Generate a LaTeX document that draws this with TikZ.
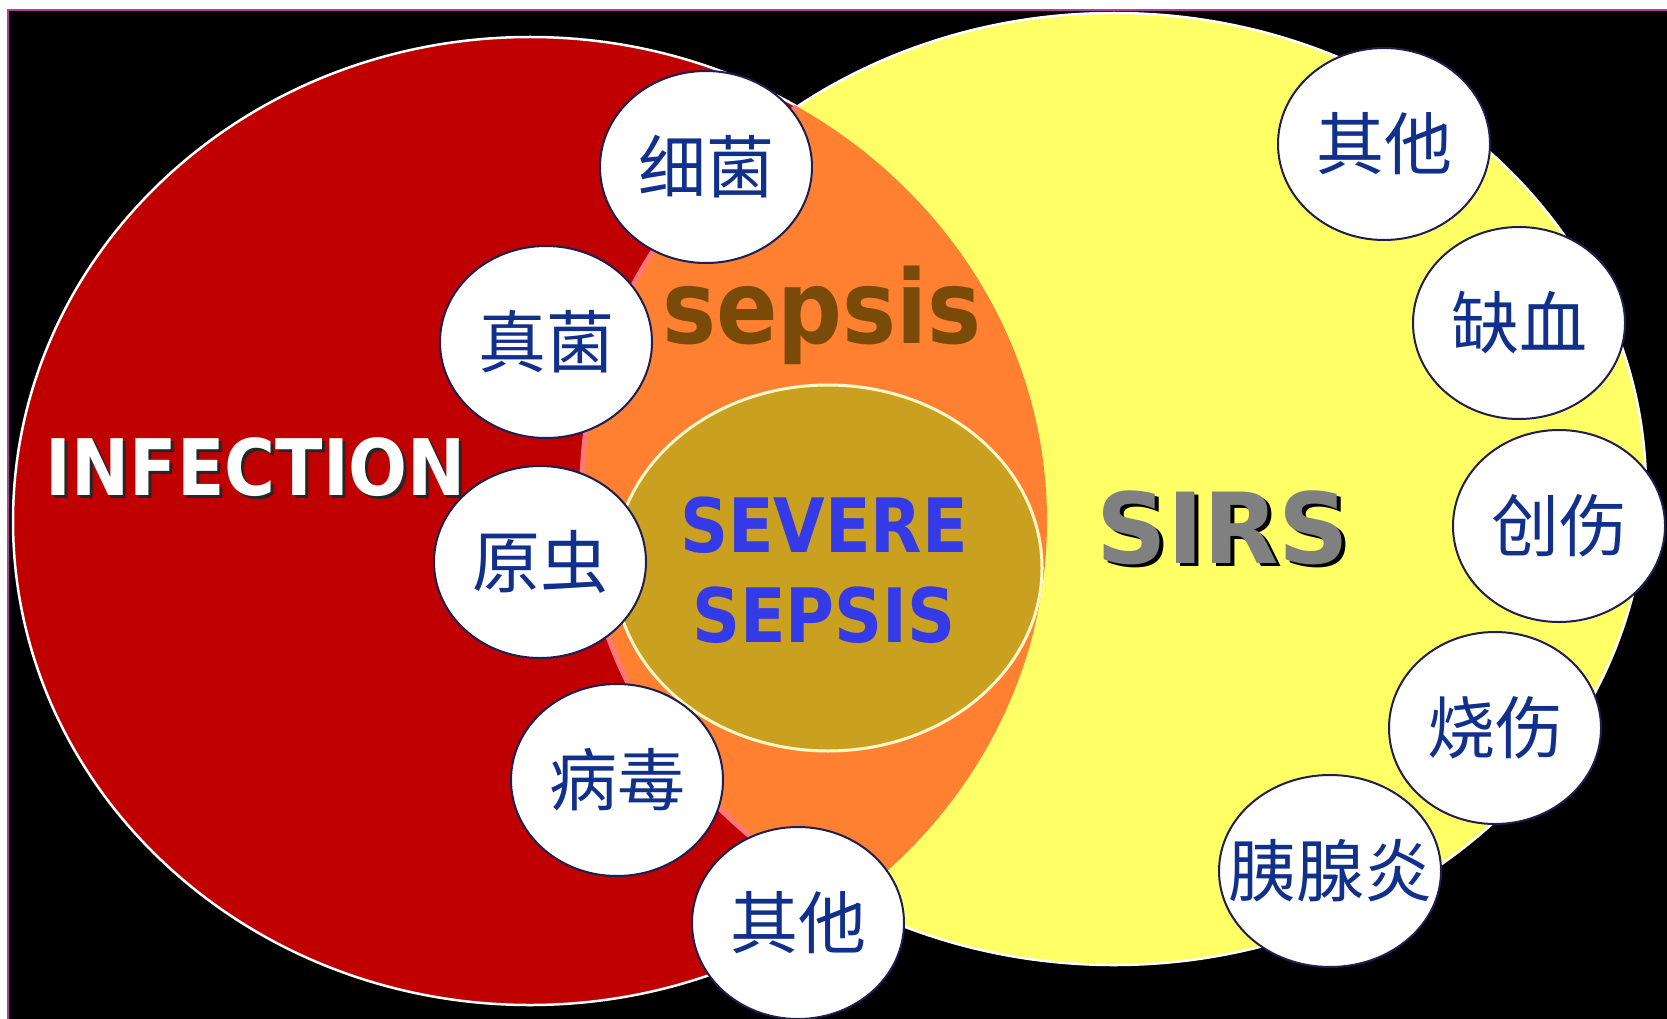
\documentclass[tikz,border=0pt]{standalone}
\usepackage{fontspec}
\usetikzlibrary{shapes.geometric}
\newfontfamily\cjk{Noto Sans CJK SC}
\newfontfamily\tahoma[FakeStretch=0.89]{DejaVu Sans Bold}
\newfontfamily\sirsfont{DejaVu Sans Bold}
\definecolor{infred}{RGB}{192,0,0}
\definecolor{sirsyellow}{RGB}{255,255,102}
\definecolor{sepsisorange}{RGB}{255,128,48}
\definecolor{rimpink}{RGB}{255,120,120}
\definecolor{severegold}{RGB}{202,160,32}
\definecolor{rimcream}{RGB}{255,248,200}
\definecolor{sepsisbrown}{RGB}{122,74,8}
\definecolor{severeblue}{RGB}{52,58,230}
\definecolor{sirsgray}{RGB}{128,128,128}
\definecolor{cjkblue}{RGB}{16,48,140}
\definecolor{circline}{RGB}{30,30,80}
\definecolor{framepink}{RGB}{176,64,160}

\begin{document}
\begin{tikzpicture}[x=1pt, y=-1pt,
  cause/.style={ellipse, draw=circline, line width=2pt, fill=white,
                minimum width=212pt, minimum height=192pt, inner sep=0pt,
                font=\cjk\fontsize{68}{68}\selectfont, text=cjkblue},
  bigword/.style={inner sep=0pt, anchor=base, font=\tahoma\fontsize{#1}{#1}\selectfont}
]
  \useasboundingbox (0,0) rectangle (1667,1019);
  \fill[white] (0,0) rectangle (1667,1019);
  \fill[black] (8,10) rectangle (1667,1019);
  \draw[framepink, line width=2.5pt] (8,1019) -- (8,10) -- (1667,10);

  % the two sets and their overlap
  \filldraw[fill=infred, draw=white, line width=2.5pt] (530,521) ellipse [x radius=517, y radius=484];
  \filldraw[fill=sirsyellow, draw=white, line width=2.5pt] (1114,489) ellipse [x radius=532, y radius=476];
  \begin{scope}
    \clip (530,521) ellipse [x radius=517, y radius=484];
    \filldraw[fill=sepsisorange, draw=rimpink, line width=5pt] (1114,489) ellipse [x radius=532, y radius=476];
  \end{scope}
  \filldraw[fill=severegold, draw=rimcream, line width=3pt] (828,568) ellipse [x radius=214, y radius=183];

  % causes of infection
  \node[cause] (bacteria) at (706,167) {细菌};
  \node[cause] (fungi)    at (546,342) {真菌};
  \node[cause] (protozoa) at (540,562) {原虫};
  \node[cause] (virus)    at (617,780) {病毒};
  \node[cause] (infother) at (798,923) {其他};

  % causes of SIRS
  \node[cause] (sirsother)  at (1384,144) {其他};
  \node[cause] (ischemia)   at (1519,323) {缺血};
  \node[cause] (trauma)     at (1559,526) {创伤};
  \node[cause] (burn)       at (1495,728) {烧伤};
  \node[cause, minimum width=222pt, inner xsep=-45pt] (pancreas) at (1330,871) {胰腺炎};

  \node[bigword=78, text=black!85] (infshadow) at (259,498) {INFECTION};
  \node[bigword=78, text=white] (infection) at (256,495) {INFECTION};
  \node[bigword=102, text=sepsisbrown] (sepsis) at (822,343) {sepsis};
  \node[bigword=75, text=severeblue] (severe) at (824,552) {SEVERE};
  \node[bigword=75, text=severeblue] (severesepsis) at (824,642) {SEPSIS};
  \node[inner sep=0pt, anchor=base, font=\sirsfont\fontsize{98}{98}\selectfont, text=black] (sirsshadow) at (1227,566) {SIRS};
  \node[inner sep=0pt, anchor=base, font=\sirsfont\fontsize{98}{98}\selectfont, text=sirsgray] (sirs) at (1223,563) {SIRS};
\end{tikzpicture}
\end{document}
